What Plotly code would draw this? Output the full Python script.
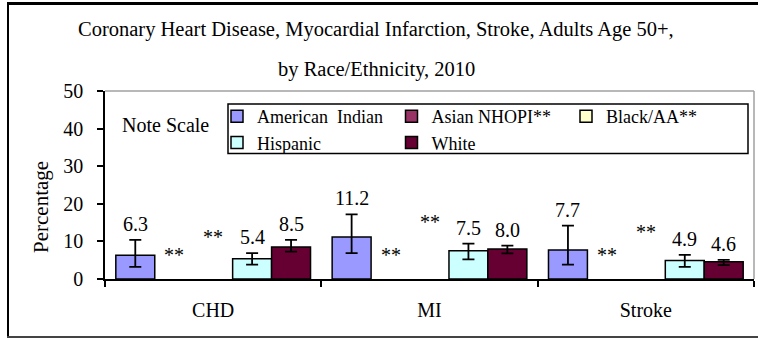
import plotly.graph_objects as go

# Data
categories = ["CHD", "MI", "Stroke"]
series_names = ["American  Indian", "Asian NHOPI**", "Black/AA**", "Hispanic", "White"]
series_colors = ["#9999FF", "#993366", "#FFFFCC", "#CCFFFF", "#660033"]
american_indian = [6.3, 11.2, 7.7]
asian_nhopi = [None, None, None]
black_aa = [None, None, None]
hispanic = [5.4, 7.5, 4.9]
white = [8.5, 8.0, 4.6]
# 95% confidence limits (upper, lower)
ai_upper = [10.4, 17.2, 14.2]
ai_lower = [3.2, 6.9, 3.8]
hisp_upper = [6.9, 9.4, 6.4]
hisp_lower = [3.8, 5.2, 3.2]
white_upper = [10.4, 8.9, 5.1]
white_lower = [7.3, 6.8, 3.7]

values = [american_indian, asian_nhopi, black_aa, hispanic, white]
uppers = [ai_upper, None, None, hisp_upper, white_upper]
lowers = [ai_lower, None, None, hisp_lower, white_lower]

W, H = 758, 338
ML, MR, MT, MB = 105, 4, 91, 59
PW, PH = W - ML - MR, H - MT - MB
FONT = "Liberation Serif, Times New Roman, serif"


def px_x(p):
    return (p - ML) / PW


def px_y(p):
    return (H - MB - p) / PH


fig = go.Figure()
for name, color, vals, up, lo in zip(series_names, series_colors, values, uppers, lowers):
    err = None
    if up is not None:
        err = dict(
            type="data", symmetric=False,
            array=[u - v for u, v in zip(up, vals)],
            arrayminus=[v - l for v, l in zip(vals, lo)],
            color="black", thickness=1.8, width=6,
        )
    fig.add_trace(go.Bar(
        x=categories, y=vals, name=name,
        marker=dict(color=color, line=dict(color="black", width=1.5)),
        error_y=err,
    ))

annotations = []
n = len(series_names)
group_w = 0.9
slot = group_w / n
# value labels above the upper confidence limit
for i, (vals, up) in enumerate(zip(values, uppers)):
    if up is None:
        continue
    off = -group_w / 2 + slot * (i + 0.5)
    for c, (v, u) in enumerate(zip(vals, up)):
        annotations.append(dict(
            x=c + off, y=u, xref="x", yref="y", text=f"{v:.1f}",
            xanchor="center", yanchor="middle",
            showarrow=False, yshift=16, font=dict(family=FONT, size=20, color="black"),
        ))
# "**" markers for suppressed estimates
star_heights = {1: [6.4, 6.4, 6.4], 2: [11.3, 15.2, 12.5]}
for i, hs in star_heights.items():
    off = -group_w / 2 + slot * (i + 0.5)
    for c, h in enumerate(hs):
        annotations.append(dict(
            x=c + off, y=h, xref="x", yref="y", text="**",
            xanchor="center", yanchor="middle",
            showarrow=False, font=dict(family=FONT, size=20, color="black"),
        ))


def paper_text(x, y, text, size, angle=0):
    return dict(x=px_x(x), y=px_y(y), xref="paper", yref="paper", text=text,
                xanchor="center", yanchor="middle", textangle=angle, showarrow=False,
                font=dict(family=FONT, size=size, color="black"))


annotations += [
    paper_text(376, 30, "Coronary Heart Disease, Myocardial Infarction, Stroke, Adults Age 50+,", 20.5),
    paper_text(376, 69, "by Race/Ethnicity, 2010", 20.5),
    paper_text(165, 125, "Note Scale", 20),
    paper_text(41, 207, "Percentage", 21, angle=-90),
]

shapes = [
    # outer frame
    dict(type="line", xref="paper", yref="paper", x0=px_x(7), x1=px_x(W), y0=px_y(3.5), y1=px_y(3.5),
         line=dict(color="black", width=3)),
    dict(type="line", xref="paper", yref="paper", x0=px_x(8), x1=px_x(8), y0=px_y(2), y1=px_y(338),
         line=dict(color="black", width=2)),
    dict(type="line", xref="paper", yref="paper", x0=px_x(7), x1=px_x(W), y0=px_y(337), y1=px_y(337),
         line=dict(color="#444444", width=2)),
    # plot area border (top and right)
    dict(type="line", xref="paper", yref="paper", x0=0, x1=1, y0=1, y1=1,
         line=dict(color="#A0A0A0", width=1.5)),
    dict(type="line", xref="paper", yref="paper", x0=1, x1=1, y0=0, y1=1,
         line=dict(color="#A0A0A0", width=1.5)),
    # legend box
    dict(type="rect", xref="paper", yref="paper", x0=px_x(228), x1=px_x(748),
         y0=px_y(104), y1=px_y(153.5), fillcolor="white",
         line=dict(color="black", width=1.5), layer="below"),
]

fig.update_layout(
    width=W, height=H,
    margin=dict(l=ML, r=MR, t=MT, b=MB, pad=0),
    paper_bgcolor="white", plot_bgcolor="white",
    barmode="group", bargap=0.1, bargroupgap=0,
    font=dict(family=FONT, size=20, color="black"),
    showlegend=True,
    legend=dict(
        orientation="h", x=px_x(217), y=px_y(98), xanchor="left", yanchor="top",
        bgcolor="rgba(0,0,0,0)", borderwidth=0,
        font=dict(family=FONT, size=18, color="black"),
        entrywidth=129.5, entrywidthmode="pixels", traceorder="normal",
        tracegroupgap=0,
    ),
    annotations=annotations,
    shapes=shapes,
    xaxis=dict(
        type="category", range=[-0.5, 2.5], showline=True, linecolor="black", linewidth=1.5,
        ticks="outside", ticklen=6, tickwidth=1.5, tickcolor="black", tickson="boundaries",
        showgrid=False, tickfont=dict(family=FONT, size=20), ticklabelstandoff=12,
    ),
    yaxis=dict(
        range=[0, 50], dtick=10, showline=True, linecolor="black", linewidth=1.5,
        ticks="outside", ticklen=6, tickwidth=1.5, tickcolor="black",
        showgrid=False, zeroline=False, tickfont=dict(family=FONT, size=20),
        ticklabelstandoff=10,
    ),
)

fig.write_html("out.html")
